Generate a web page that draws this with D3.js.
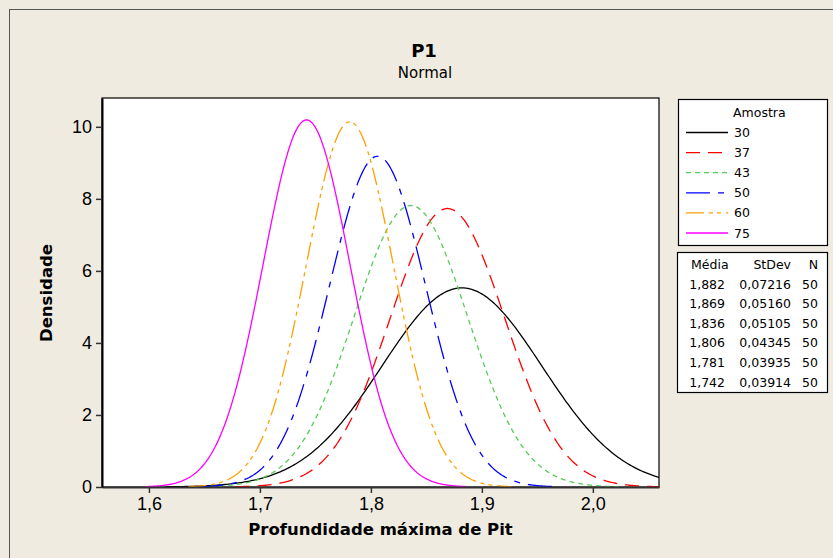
<!DOCTYPE html>
<html>
<head>
<meta charset="utf-8">
<script src="https://cdn.jsdelivr.net/npm/d3@7"></script>
<style>
  body { margin: 0; background: #efebe1; }
  svg { display: block; font-family: "DejaVu Sans", Tahoma, sans-serif; }
</style>
</head>
<body>
<script>
// data
var amostras = ["30", "37", "43", "50", "60", "75"];
var medias = [1.882, 1.869, 1.836, 1.806, 1.781, 1.742];
var stdevs = [0.07216, 0.05160, 0.05105, 0.04345, 0.03935, 0.03914];
var ns = [50, 50, 50, 50, 50, 50];
var xTicks = [1.6, 1.7, 1.8, 1.9, 2.0];
var yTicks = [0, 2, 4, 6, 8, 10];

var cores = ["#000000", "#ff0000", "#55cc55", "#0000ff", "#ffa000", "#ff00ff"];
var tracos = [null, "14,8", "5,4", "24,8,6,8", "18,5,4,4,4,5", null];

var width = 833, height = 558;
var plot = { left: 102, right: 659, top: 98, bottom: 487 };

var locale = d3.formatLocale({ decimal: ",", thousands: ".", grouping: [3], currency: ["", ""] });
var f1 = locale.format(".1f"), f3 = locale.format(".3f"), f5 = locale.format(".5f");

var svg = d3.select('body').append('svg')
        .attr('width', width)
        .attr('height', height);

svg.append('rect')
    .attr('x', 9.5).attr('y', 9.5)
    .attr('width', width).attr('height', height)
    .attr('fill', '#efebe1')
    .attr('stroke', '#555').attr('stroke-width', 1);

var x = d3.scaleLinear().domain([1.5577, 2.0596]).range([plot.left, plot.right]);
var y = d3.scaleLinear().domain([0, 10.8]).range([plot.bottom, plot.top]);

svg.append('rect')
    .attr('x', plot.left).attr('y', plot.top)
    .attr('width', plot.right - plot.left).attr('height', plot.bottom - plot.top)
    .attr('fill', '#fff')
    .attr('stroke', '#000').attr('stroke-width', 1.2);

// titles
svg.append('text').attr('x', 424).attr('y', 57)
    .attr('text-anchor', 'middle').style('font-size', '18px').style('font-weight', 'bold')
    .text('P1');
svg.append('text').attr('x', 425).attr('y', 78)
    .attr('text-anchor', 'middle').style('font-size', '15px')
    .text('Normal');

// curves (normal density from the table's mean and stdev)
svg.append('clipPath').attr('id', 'clip').append('rect')
    .attr('x', plot.left).attr('y', plot.top)
    .attr('width', plot.right - plot.left).attr('height', plot.bottom - plot.top);

var pdf = function (v, m, s) {
    return Math.exp(-0.5 * Math.pow((v - m) / s, 2)) / (s * Math.sqrt(2 * Math.PI));
};

var line = d3.line()
        .x(function (d) { return x(d[0]); })
        .y(function (d) { return y(d[1]); });

var curvas = amostras.map(function (a, i) {
    var lo = medias[i] - 3.7 * stdevs[i], hi = medias[i] + 3.7 * stdevs[i];
    return d3.range(0, 301).map(function (k) {
        var v = lo + (hi - lo) * k / 300;
        return [v, pdf(v, medias[i], stdevs[i])];
    });
});

svg.append('g').attr('clip-path', 'url(#clip)')
    .selectAll('path')
    .data(curvas)
    .enter().append('path')
        .attr('d', line)
        .attr('fill', 'none')
        .attr('stroke', function (d, i) { return cores[i]; })
        .attr('stroke-width', 1.3)
        .attr('stroke-dasharray', function (d, i) { return tracos[i]; });

// axes
var xAxis = svg.append('g')
    .attr('transform', 'translate(0,' + plot.bottom + ')')
    .call(d3.axisBottom(x).tickValues(xTicks).tickFormat(f1).tickSize(6).tickSizeOuter(0));
xAxis.select('.domain').attr('stroke', '#333').attr('stroke-width', 2);
xAxis.selectAll('.tick line').attr('stroke', '#333').attr('stroke-width', 1.5);
xAxis.selectAll('text').attr('fill', '#000').attr('dy', '0.1em').attr('y', 21)
    .style('font-size', '18px');

var yAxis = svg.append('g')
    .attr('transform', 'translate(' + plot.left + ',0)')
    .call(d3.axisLeft(y).tickValues(yTicks).tickSize(6).tickSizeOuter(0));
yAxis.select('.domain').attr('stroke', '#000').attr('stroke-width', 2);
yAxis.selectAll('.tick line').attr('stroke', '#333').attr('stroke-width', 1.5);
yAxis.selectAll('text').attr('fill', '#000').attr('x', -10)
    .style('font-size', '18px');

svg.append('text').attr('x', (plot.left + plot.right) / 2).attr('y', 535)
    .attr('text-anchor', 'middle').style('font-size', '16.5px').style('font-weight', 'bold')
    .text('Profundidade máxima de Pit');
svg.append('text')
    .attr('transform', 'translate(52,293) rotate(-90)')
    .attr('text-anchor', 'middle').style('font-size', '16.5px').style('font-weight', 'bold')
    .text('Densidade');

// legend
var leg = svg.append('g');
leg.append('rect').attr('x', 678.5).attr('y', 99.5).attr('width', 149).attr('height', 146)
    .attr('fill', '#fff').attr('stroke', '#000').attr('stroke-width', 1.2);
leg.append('text').attr('x', 733).attr('y', 117).style('font-size', '12.5px').text('Amostra');
var rows = leg.selectAll('g.row').data(amostras).enter().append('g').attr('class', 'row')
    .attr('transform', function (d, i) { return 'translate(0,' + (132.5 + i * 20.1) + ')'; });
rows.append('line').attr('x1', 686).attr('x2', 728).attr('y1', 0).attr('y2', 0)
    .attr('stroke', function (d, i) { return cores[i]; })
    .attr('stroke-width', 1.3)
    .attr('stroke-dasharray', function (d, i) { return tracos[i]; });
rows.append('text').attr('x', 734).attr('y', 4.5).style('font-size', '12.5px').text(function (d) { return d; });

// stats table
var tab = svg.append('g');
tab.append('rect').attr('x', 677.5).attr('y', 252.5).attr('width', 150).attr('height', 140)
    .attr('fill', '#fff').attr('stroke', '#000').attr('stroke-width', 1.2);
tab.append('text').attr('x', 691).attr('y', 269).style('font-size', '12.5px').text('Média');
tab.append('text').attr('x', 791).attr('y', 269).attr('text-anchor', 'end').style('font-size', '12.5px').text('StDev');
tab.append('text').attr('x', 818).attr('y', 269).attr('text-anchor', 'end').style('font-size', '12.5px').text('N');
var trs = tab.selectAll('g.tr').data(medias).enter().append('g').attr('class', 'tr')
    .attr('transform', function (d, i) { return 'translate(0,' + (288.5 + i * 19.6) + ')'; });
trs.append('text').attr('x', 725).attr('text-anchor', 'end').style('font-size', '12.5px')
    .text(function (d) { return f3(d); });
trs.append('text').attr('x', 791).attr('text-anchor', 'end').style('font-size', '12.5px')
    .text(function (d, i) { return f5(stdevs[i]); });
trs.append('text').attr('x', 818).attr('text-anchor', 'end').style('font-size', '12.5px')
    .text(function (d, i) { return ns[i]; });
</script>
</body>
</html>
